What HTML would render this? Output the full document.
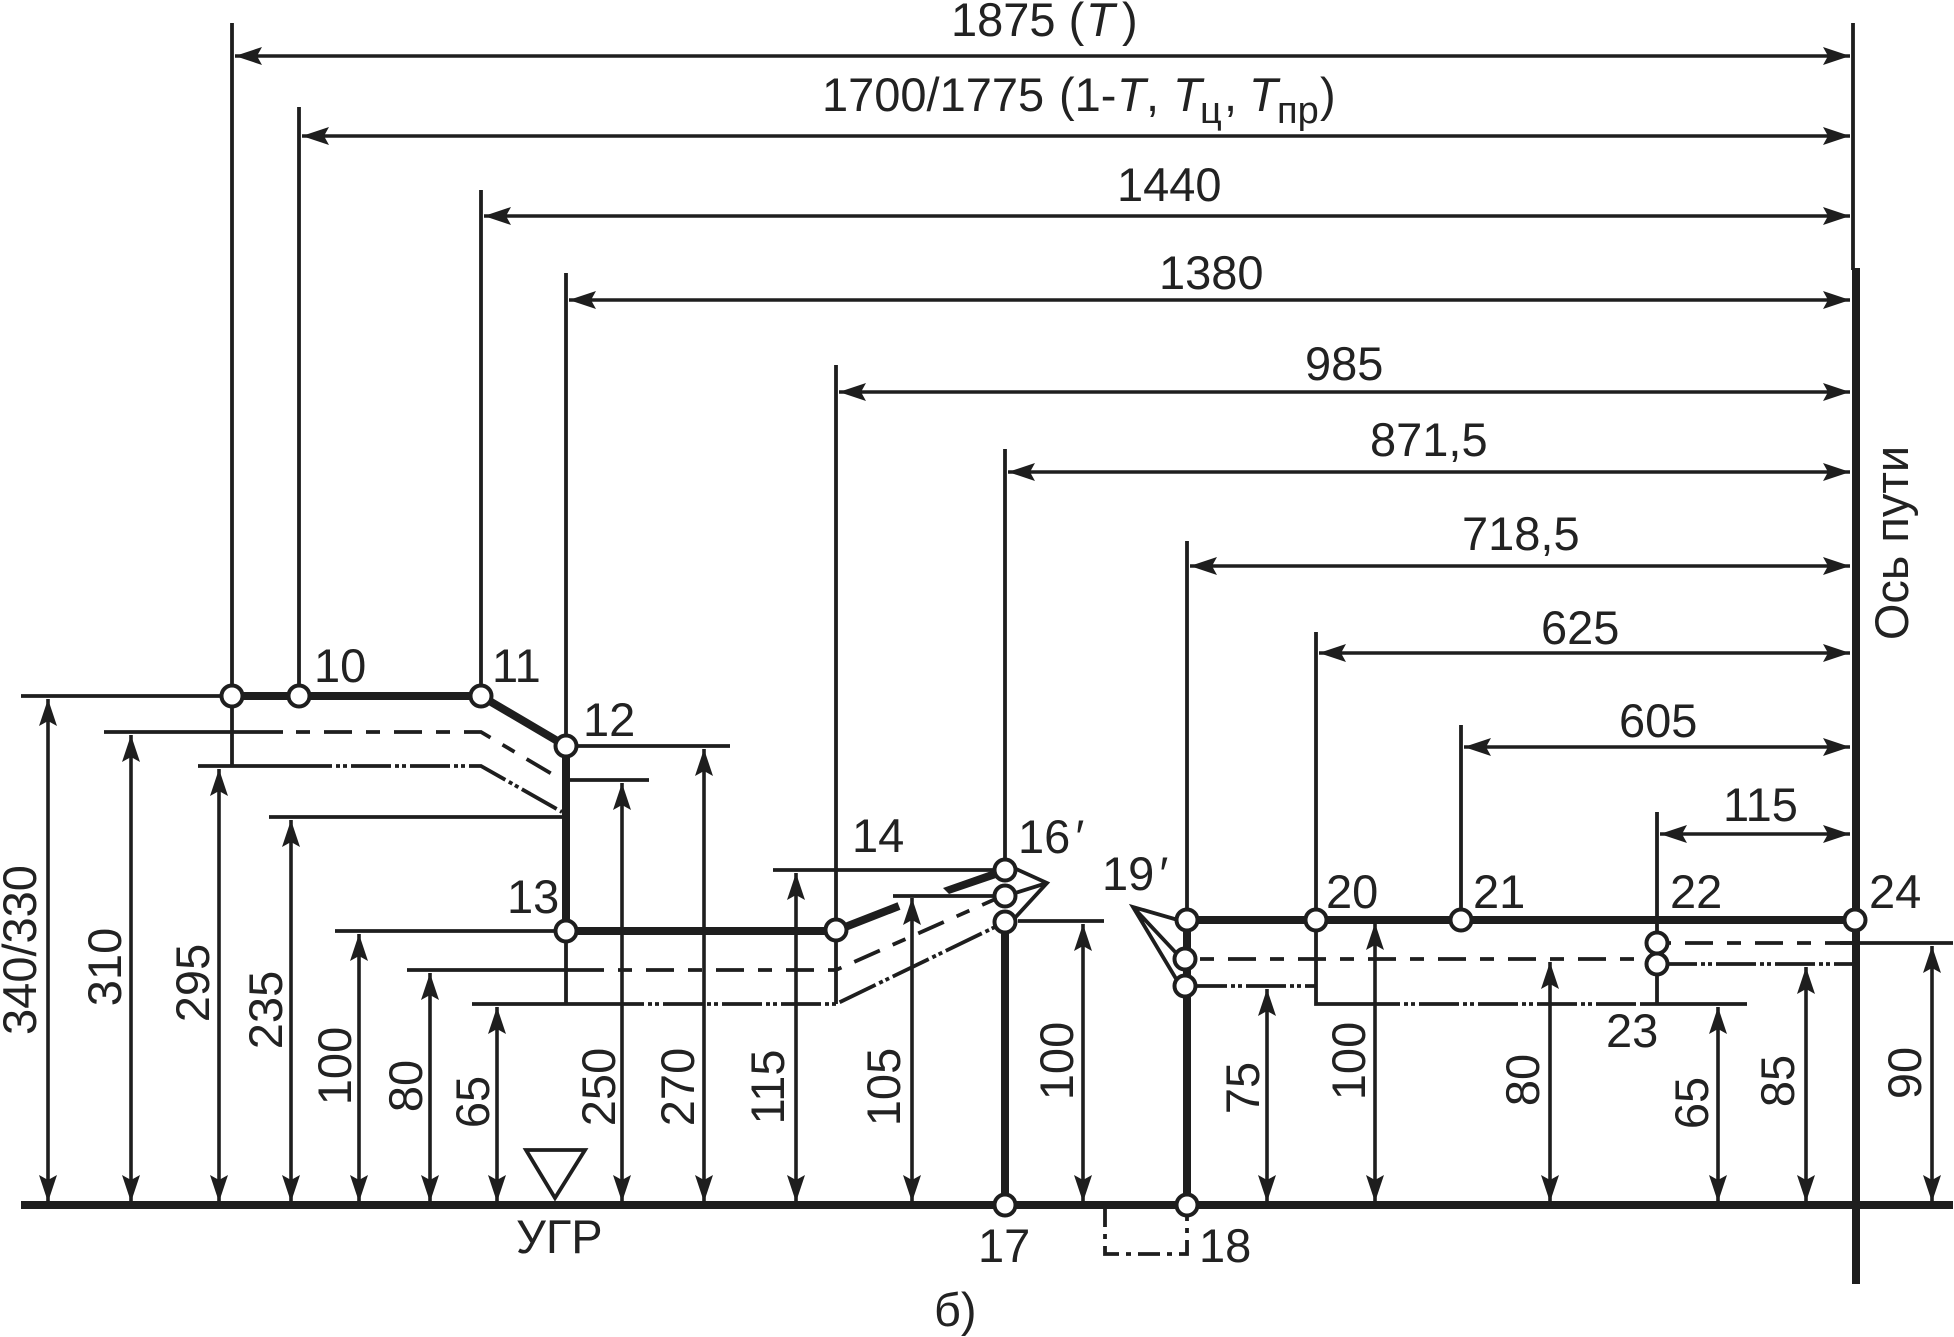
<!DOCTYPE html>
<html><head><meta charset="utf-8"><style>
html,body{margin:0;padding:0;background:#fff}
svg{display:block}
text{font-family:"Liberation Sans",sans-serif;font-size:47px;fill:#222}
.t{stroke:#1e1e1e;stroke-width:3.8;fill:none}
.d{stroke:#1e1e1e;stroke-width:3.6;fill:none;marker-start:url(#a);marker-end:url(#a)}
.k{stroke:#1e1e1e;stroke-width:8;fill:none}
.h{stroke:#1e1e1e;stroke-width:3.8;fill:none;stroke-dasharray:14 14 28 14}
.p{stroke:#1e1e1e;stroke-width:3.8;fill:none;stroke-dasharray:40 4 4 3 4 4}
.n{fill:#fff;stroke:#1e1e1e;stroke-width:4}
</style></head><body>
<svg width="1954" height="1337" viewBox="0 0 1954 1337" xmlns="http://www.w3.org/2000/svg">
<defs><marker id="a" markerUnits="userSpaceOnUse" markerWidth="30" markerHeight="22" refX="28" refY="11" orient="auto-start-reverse"><path d="M28 11L1 2L6 11L1 20Z" fill="#1e1e1e"/></marker></defs>
<rect width="1954" height="1337" fill="#fff"/>

<!-- extension lines -->
<path class="t" d="M232 23V766M299 107V696M481 190V696M566 273V746M836 365V1004M1005 449V870M1187 541V920M1316 632V1004H1360M1461 725V920M1657 812V1004M1853 23V270"/>

<!-- horizontal dims -->
<path class="d" d="M235 56H1850"/><path class="d" d="M302 136H1850"/><path class="d" d="M484 216H1850"/><path class="d" d="M569 300H1850"/>
<path class="d" d="M839 392H1850"/><path class="d" d="M1008 472H1850"/><path class="d" d="M1190 566H1850"/><path class="d" d="M1319 653H1850"/>
<path class="d" d="M1464 747H1850"/><path class="d" d="M1660 834H1850"/>

<!-- thin solid levels -->
<path class="t" d="M21 696H232M566 746H730M566 780H649M269 817H566M335 931H566M407 970H604M472 1004H604M773 870H1005M893 896H1005M1018 921H1104M1640 1004H1747M1840 943H1953M104 732H283M198 766H292"/>
<path class="t" d="M566 931V1004"/>

<!-- dashed -->
<path class="h" d="M296 732H481L562 780"/>
<path class="h" d="M618 970H836L1000 897"/>
<path class="h" d="M1200 959H1657"/>
<path class="h" d="M1657 943H1853"/>
<!-- dash-dot-dot -->
<path class="p" d="M292 766H481L562 812"/>
<path class="p" d="M604 1004H836L995 927"/>
<path class="p" d="M1187 986H1316"/>
<path class="p" d="M1360 1004H1640"/>
<path class="p" d="M1657 964H1853"/>
<path class="t" d="M1105 1205V1254H1187V1205" stroke-dasharray="22 7 5 7"/>

<!-- leaders -->
<path class="t" d="M1014 868L1047 883L1012 921M1047 883L1012 894"/>
<path class="t" d="M1178 920L1133 907L1178 982M1133 907L1178 955"/>

<!-- thick -->
<path class="k" d="M232 696H481L566 746V931H835L899 906"/>
<path d="M943 888L1000 868L1002 876L949 894Z" fill="#1e1e1e"/>
<path class="k" d="M1005 921V1205"/>
<path class="k" d="M1187 920V1205"/>
<path class="k" d="M1187 920H1855"/>
<path class="k" d="M1856 268V1284"/>
<path class="k" d="M21 1205H1953"/>

<!-- triangle -->
<path class="t" d="M526 1150H585L555 1198Z"/>

<!-- vertical dims -->
<path class="d" d="M48 699V1202"/><path class="d" d="M131 735V1202"/><path class="d" d="M219 769V1202"/><path class="d" d="M291 820V1202"/>
<path class="d" d="M359 934V1202"/><path class="d" d="M430 973V1202"/><path class="d" d="M497 1007V1202"/><path class="d" d="M622 783V1202"/>
<path class="d" d="M704 749V1202"/><path class="d" d="M796 873V1202"/><path class="d" d="M912 898V1202"/><path class="d" d="M1083 924V1202"/>
<path class="d" d="M1267 989V1202"/><path class="d" d="M1375 923V1202"/><path class="d" d="M1550 962V1202"/><path class="d" d="M1718 1007V1202"/>
<path class="d" d="M1806 967V1202"/><path class="d" d="M1932 946V1202"/>

<!-- nodes -->
<g class="n">
<circle cx="232" cy="696" r="10.500"/><circle cx="299" cy="696" r="10.500"/><circle cx="481" cy="696" r="10.500"/><circle cx="566" cy="746" r="10.500"/><circle cx="566" cy="931" r="10.500"/>
<circle cx="836" cy="930" r="10.500"/><circle cx="1005" cy="870" r="10.500"/><circle cx="1005" cy="896" r="10.500"/><circle cx="1005" cy="922" r="10.500"/>
<circle cx="1005" cy="1205" r="10.500"/><circle cx="1187" cy="1205" r="10.500"/><circle cx="1187" cy="920" r="10.500"/><circle cx="1185" cy="959" r="10.500"/><circle cx="1185" cy="986" r="10.500"/>
<circle cx="1316" cy="920" r="10.500"/><circle cx="1461" cy="920" r="10.500"/><circle cx="1657" cy="943" r="10.500"/><circle cx="1657" cy="964" r="10.500"/><circle cx="1855" cy="920" r="10.500"/>
</g>

<!-- top labels -->
<text x="951" y="36">1875 (<tspan x="1086" font-style="italic">T</tspan><tspan x="1122">)</tspan></text>
<text x="822" y="111">1700/1775 <tspan x="1059">(1-</tspan><tspan x="1117" font-style="italic">T</tspan><tspan x="1146">,</tspan><tspan x="1173" font-style="italic">T</tspan><tspan x="1200" y="123" font-size="38">ц</tspan><tspan x="1224" y="111">,</tspan><tspan x="1249" font-style="italic">T</tspan><tspan x="1277" y="123" font-size="38">пр</tspan><tspan x="1320" y="111">)</tspan></text>
<text x="1117" y="201">1440</text><text x="1159" y="289">1380</text><text x="1305" y="380">985</text><text x="1370" y="456">871,5</text>
<text x="1462" y="550">718,5</text><text x="1541" y="644">625</text><text x="1619" y="737">605</text><text x="1723" y="821">115</text>

<!-- node labels -->
<text x="314" y="682">10</text><text x="492" y="682">11</text><text x="583" y="736">12</text><text x="507" y="913">13</text>
<text x="852" y="852">14</text><text x="1018" y="853">16<tspan font-style="italic" dx="3">′</tspan></text><text x="1102" y="890">19<tspan font-style="italic" dx="3">′</tspan></text>
<text x="1326" y="908">20</text><text x="1473" y="908">21</text><text x="1670" y="908">22</text><text x="1606" y="1047">23</text><text x="1869" y="908">24</text>
<text x="978" y="1262">17</text><text x="1199" y="1262">18</text>
<text x="516" y="1253">УГР</text><text x="934" y="1326">б)</text>

<!-- rotated labels -->
<g text-anchor="middle">
<text transform="translate(36,950) rotate(-90)">340/330</text>
<text transform="translate(121,967) rotate(-90)">310</text>
<text transform="translate(209,983) rotate(-90)">295</text>
<text transform="translate(282,1010) rotate(-90)">235</text>
<text transform="translate(351,1066) rotate(-90)">100</text>
<text transform="translate(422,1086) rotate(-90)">80</text>
<text transform="translate(489,1102) rotate(-90)">65</text>
<text transform="translate(615,1087) rotate(-90)">250</text>
<text transform="translate(694,1087) rotate(-90)">270</text>
<text transform="translate(784,1087) rotate(-90)">115</text>
<text transform="translate(900,1087) rotate(-90)">105</text>
<text transform="translate(1073,1061) rotate(-90)">100</text>
<text transform="translate(1259,1088) rotate(-90)">75</text>
<text transform="translate(1365,1061) rotate(-90)">100</text>
<text transform="translate(1539,1080) rotate(-90)">80</text>
<text transform="translate(1708,1103) rotate(-90)">65</text>
<text transform="translate(1794,1081) rotate(-90)">85</text>
<text transform="translate(1921,1073) rotate(-90)">90</text>
<text transform="translate(1908,543) rotate(-90)">Ось пути</text>
</g>
</svg>
</body></html>
